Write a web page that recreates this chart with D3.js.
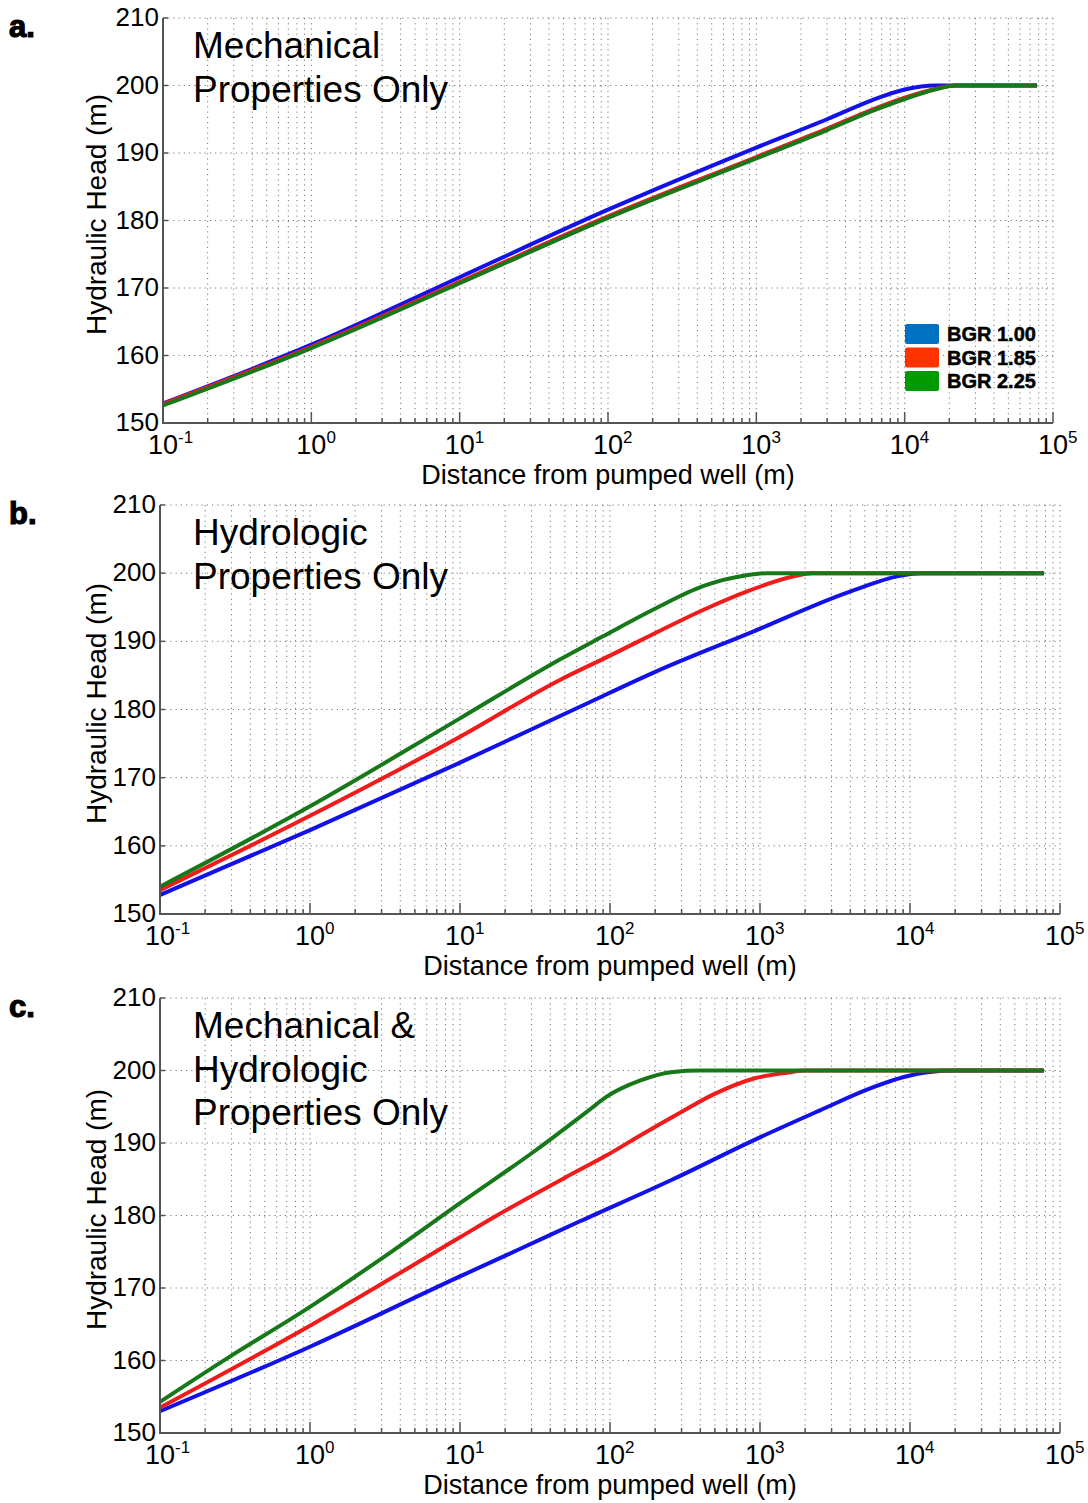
<!DOCTYPE html>
<html>
<head>
<meta charset="utf-8">
<script src="https://cdn.jsdelivr.net/npm/d3@7"></script>
<style>
  body { margin: 0; background: #fff; }
  svg { display: block; font-family: "Liberation Sans", Arial, sans-serif; }
</style>
</head>
<body>
<script>
// axis values
const xTicks = [0.1, 1, 10, 100, 1000, 10000, 100000];
const yTicks = [150, 160, 170, 180, 190, 200, 210];
const seriesNames = ['BGR 1.00', 'BGR 1.85', 'BGR 2.25'];
const panelLetters = ['a.', 'b.', 'c.'];
const panelTitles = [
  ['Mechanical', 'Properties Only'],
  ['Hydrologic', 'Properties Only'],
  ['Mechanical &', 'Hydrologic', 'Properties Only']
];

// [distance (m), head (m)]
const mechBgr100 = [[0.1, 152.9], [1, 161.6], [10, 171.6], [100, 181.6], [1000, 190.8], [3000, 195], [6000, 197.8], [10000, 199.4], [16000, 200], [78000, 200]];
const mechBgr185 = [[0.1, 152.8], [1, 161.3], [10, 170.9], [100, 180.6], [1000, 189.4], [3000, 193.6], [6000, 196.4], [10000, 198.2], [16000, 199.5], [22000, 200], [78000, 200]];
const mechBgr225 = [[0.1, 152.6], [1, 161.1], [10, 170.7], [100, 180.4], [1000, 189.2], [3000, 193.4], [6000, 196.2], [10000, 198], [16000, 199.4], [22000, 200], [78000, 200]];

const hydroBgr100 = [[0.1, 152.8], [1, 162.3], [10, 172.2], [63, 180.4], [204, 185.6], [891, 191.4], [3981, 197.3], [8511, 199.6], [11750, 200], [78000, 200]];
const hydroBgr185 = [[0.1, 153.5], [1, 164.4], [10, 176], [46, 184.3], [100, 187.9], [204, 191.3], [417, 194.6], [813, 197.3], [1660, 199.5], [2240, 200], [78000, 200]];
const hydroBgr225 = [[0.1, 154], [1, 165.8], [10, 178.7], [46, 187.3], [89, 190.7], [204, 194.9], [417, 198.1], [813, 199.7], [1120, 200], [78000, 200]];

const bothBgr100 = [[0.1, 153], [1, 161.9], [10, 171.6], [24, 175.2], [63, 179.2], [263, 185], [912, 190.4], [2512, 194.5], [5370, 197.5], [9100, 199.1], [13500, 199.8], [20000, 200], [78000, 200]];
const bothBgr185 = [[0.1, 153.5], [1, 164.8], [10, 177], [17.6, 180], [51, 185.3], [95, 188.3], [158, 191], [295, 194.2], [490, 196.7], [912, 198.9], [1510, 199.7], [2000, 200], [78000, 200]];
const bothBgr225 = [[0.1, 154.3], [0.28, 160.3], [1, 167.4], [3.6, 175.2], [10, 181.7], [32, 189], [70, 194.3], [95, 196.4], [158, 198.6], [263, 199.8], [400, 200], [78000, 200]];

const lineColors = ['#1212e8', '#f01c1c', '#17781a'];
const legendColors = ['#0070c0', '#ff3300', '#009900'];

const W = 1088;
const H = 1503;

const svg = d3.select('body')
  .append('svg')
  .attr('width', W)
  .attr('height', H);

svg.append('rect').attr('width', W).attr('height', H).attr('fill', '#fff');

const panels = [
  { left: 163, right: 1053, top: 18, bottom: 423, series: [mechBgr100, mechBgr185, mechBgr225], legend: true },
  { left: 160, right: 1060, top: 505, bottom: 914, series: [hydroBgr100, hydroBgr185, hydroBgr225] },
  { left: 160, right: 1060, top: 998, bottom: 1433, series: [bothBgr100, bothBgr185, bothBgr225] }
];

const drawPanel = (p, i) => {
  const x = d3.scaleLog()
    .domain([xTicks[0], xTicks[xTicks.length - 1]])
    .range([p.left, p.right]);
  const y = d3.scaleLinear()
    .domain([yTicks[0], yTicks[yTicks.length - 1]])
    .range([p.bottom, p.top]);

  const g = svg.append('g');
  const allX = x.ticks();
  const isDecade = t => Math.abs(Math.log10(t) - Math.round(Math.log10(t))) < 1e-9;

  // dotted grid
  g.selectAll('.vgrid')
    .data(allX.filter(t => t > xTicks[0]))
    .enter()
    .append('line')
    .attr('x1', d => x(d)).attr('x2', d => x(d))
    .attr('y1', p.top).attr('y2', p.bottom)
    .attr('stroke', '#777')
    .attr('stroke-width', 1)
    .attr('stroke-dasharray', '1.2,4');

  g.selectAll('.hgrid')
    .data(yTicks.slice(1))
    .enter()
    .append('line')
    .attr('x1', p.left).attr('x2', p.right)
    .attr('y1', d => y(d)).attr('y2', d => y(d))
    .attr('stroke', '#777')
    .attr('stroke-width', 1)
    .attr('stroke-dasharray', '1.2,4');

  // curves
  const line = d3.line()
    .x(d => x(d[0]))
    .y(d => y(d[1]))
    .curve(d3.curveMonotoneX);

  p.series.forEach((s, k) => {
    g.append('path')
      .datum(s)
      .attr('d', line)
      .attr('fill', 'none')
      .attr('stroke', lineColors[k])
      .attr('stroke-width', 4)
      .attr('stroke-linejoin', 'round');
  });

  // axis lines
  g.append('line')
    .attr('x1', p.left).attr('x2', p.left)
    .attr('y1', p.top).attr('y2', p.bottom)
    .attr('stroke', '#555').attr('stroke-width', 2);
  g.append('line')
    .attr('x1', p.left - 1).attr('x2', p.right)
    .attr('y1', p.bottom).attr('y2', p.bottom)
    .attr('stroke', '#555').attr('stroke-width', 2);

  // x ticks (inward)
  g.selectAll('.xtick')
    .data(allX)
    .enter()
    .append('line')
    .attr('x1', d => x(d)).attr('x2', d => x(d))
    .attr('y1', p.bottom)
    .attr('y2', d => p.bottom - (isDecade(d) ? 11 : 5))
    .attr('stroke', '#555').attr('stroke-width', 1.5);

  // y ticks (inward)
  g.selectAll('.ytick')
    .data(yTicks)
    .enter()
    .append('line')
    .attr('x1', p.left).attr('x2', p.left + 5)
    .attr('y1', d => y(d)).attr('y2', d => y(d))
    .attr('stroke', '#555').attr('stroke-width', 1.5);

  // y tick labels
  g.selectAll('.ylab')
    .data(yTicks)
    .enter()
    .append('text')
    .attr('x', p.left - 4)
    .attr('y', d => y(d) + 8)
    .attr('text-anchor', 'end')
    .attr('font-size', 26)
    .attr('fill', '#000')
    .text(d => d);

  // x tick labels 10^n, the "10" centred on the tick
  const xl = g.selectAll('.xlab')
    .data(xTicks)
    .enter()
    .append('text')
    .attr('x', d => x(d) - 15)
    .attr('y', p.bottom + 31)
    .attr('fill', '#000');
  xl.append('tspan').attr('font-size', 27).text('10');
  xl.append('tspan')
    .attr('font-size', 17)
    .attr('dy', -11)
    .text(d => Math.round(Math.log10(d)));

  // axis titles
  g.append('text')
    .attr('x', (p.left + p.right) / 2)
    .attr('y', p.bottom + 61)
    .attr('text-anchor', 'middle')
    .attr('font-size', 27)
    .text('Distance from pumped well (m)');

  g.append('text')
    .attr('transform', `translate(106,${(p.top + p.bottom) / 2 - 6}) rotate(-90)`)
    .attr('text-anchor', 'middle')
    .attr('font-size', 28)
    .text('Hydraulic Head (m)');

  // panel title
  panelTitles[i].forEach((t, k) => {
    g.append('text')
      .attr('x', 193)
      .attr('y', p.top + 40 + k * 43.5)
      .attr('font-size', 37)
      .text(t);
  });

  // panel letter
  g.append('text')
    .attr('x', 9)
    .attr('y', p.top + 19)
    .attr('font-size', 31)
    .attr('font-weight', 'bold')
    .attr('stroke', '#000')
    .attr('stroke-width', 1.2)
    .text(panelLetters[i]);

  if (p.legend) {
    const lg = g.append('g');
    seriesNames.forEach((name, k) => {
      lg.append('rect')
        .attr('x', 905).attr('y', 324 + k * 23.5)
        .attr('width', 34).attr('height', 20)
        .attr('rx', 2)
        .attr('fill', legendColors[k]);
      lg.append('text')
        .attr('x', 947).attr('y', 341 + k * 23.5)
        .attr('font-size', 20)
        .attr('font-weight', 'bold')
        .attr('stroke', '#000')
        .attr('stroke-width', 0.5)
        .text(name);
    });
  }
};

panels.forEach(drawPanel);
</script>
</body>
</html>
